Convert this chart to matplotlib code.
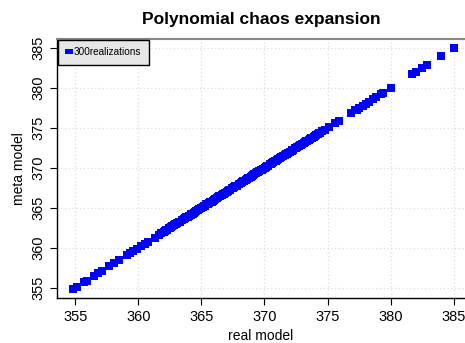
"""
Polynomial chaos expansion : meta model vs real model (300 realizations).
Sortie : out.png
"""
import matplotlib
matplotlib.use("Agg")
import matplotlib.pyplot as plt
from matplotlib.patches import Patch

# valeurs (real model -> abscisse, meta model -> ordonnée)
real_model = [
    354.85, 355.1, 355.7, 355.9, 356.5, 356.8, 357.1, 357.7, 358.1, 358.5,
    359.1, 359.3, 359.6, 359.9, 360.2, 360.5, 360.8, 361.3, 361.6, 361.8,
    362.0, 362.1, 362.2, 362.3, 362.4, 362.5, 362.6, 362.7, 362.85, 362.9,
    363.0, 363.1, 363.2, 363.3, 363.45, 363.5, 363.6, 363.7, 363.8, 363.9,
    364.0, 364.15, 364.2, 364.3, 364.4, 364.5, 364.6, 364.7, 364.8, 364.95,
    365.0, 365.1, 365.2, 365.3, 365.4, 365.55, 365.6, 365.7, 365.8, 365.9,
    366.0, 366.1, 366.2, 366.35, 366.4, 366.5, 366.6, 366.7, 366.8, 366.9,
    367.05, 367.1, 367.2, 367.3, 367.4, 367.5, 367.6, 367.7, 367.8, 367.95,
    368.0, 368.1, 368.2, 368.3, 368.4, 368.5, 368.65, 368.7, 368.8, 368.9,
    369.0, 369.1, 369.2, 369.35, 369.4, 369.5, 369.6, 369.7, 369.8, 369.9,
    370.05, 370.1, 370.2, 370.3, 370.4, 370.5, 370.6, 370.7, 370.85, 370.9,
    371.0, 371.1, 371.2, 371.3, 371.45, 371.5, 371.6, 371.7, 371.8, 371.9,
    372.0, 372.15, 372.2, 372.3, 372.4, 372.5, 372.6, 372.7, 372.85, 372.9,
    373.0, 373.1, 373.2, 373.3, 373.4, 373.55, 373.6, 373.7, 373.8, 373.9,
    374.0, 374.1, 374.25, 374.3, 374.4, 374.6, 374.8, 375.15, 375.6, 375.9,
    376.9, 377.2, 377.3, 377.5, 377.8, 378.05, 378.3, 378.6, 378.85, 379.2,
    379.4, 380.0, 381.7, 382.05, 382.5, 382.85, 384.0, 385.0,
]
meta_model = [
    354.9, 355.1, 355.75, 355.9, 356.5, 356.85, 357.1, 357.7, 358.15, 358.5,
    359.1, 359.35, 359.6, 359.9, 360.25, 360.5, 360.8, 361.3, 361.6, 361.85,
    362.0, 362.15, 362.2, 362.3, 362.45, 362.5, 362.6, 362.75, 362.85, 362.95,
    363.0, 363.1, 363.25, 363.3, 363.45, 363.55, 363.6, 363.7, 363.85, 363.9,
    364.0, 364.15, 364.25, 364.3, 364.4, 364.55, 364.6, 364.7, 364.85, 364.95,
    365.0, 365.15, 365.2, 365.3, 365.45, 365.55, 365.6, 365.75, 365.8, 365.9,
    366.05, 366.1, 366.2, 366.35, 366.45, 366.5, 366.6, 366.75, 366.8, 366.9,
    367.05, 367.15, 367.2, 367.3, 367.45, 367.5, 367.6, 367.75, 367.8, 367.95,
    368.05, 368.1, 368.2, 368.35, 368.4, 368.5, 368.65, 368.75, 368.8, 368.9,
    369.05, 369.1, 369.2, 369.35, 369.45, 369.5, 369.6, 369.75, 369.8, 369.9,
    370.05, 370.15, 370.2, 370.3, 370.45, 370.5, 370.6, 370.75, 370.85, 370.9,
    371.05, 371.1, 371.2, 371.35, 371.45, 371.5, 371.6, 371.75, 371.8, 371.9,
    372.05, 372.15, 372.2, 372.3, 372.45, 372.5, 372.6, 372.75, 372.85, 372.9,
    373.05, 373.1, 373.2, 373.35, 373.4, 373.55, 373.6, 373.75, 373.8, 373.9,
    374.05, 374.1, 374.25, 374.35, 374.4, 374.6, 374.8, 375.15, 375.6, 375.9,
    376.9, 377.2, 377.3, 377.5, 377.8, 378.05, 378.3, 378.6, 378.85, 379.2,
    379.4, 380.0, 381.7, 382.05, 382.5, 382.85, 384.0, 385.0,
]
ticks = [355, 360, 365, 370, 375, 380, 385]
legend_label = "300realizations"

plt.rcParams["font.family"] = ["Liberation Sans", "DejaVu Sans"]

fig = plt.figure(figsize=(4.65, 3.43), dpi=100)
ax = fig.add_axes([0.1226, 0.131, 0.8774, 0.755])

ax.scatter(real_model, meta_model, marker="s", s=27, color="#0000ff",
           linewidths=0, zorder=3)

ax.set_xlim(353.55, 385.9)
ax.set_ylim(353.75, 386.1)
ax.set_xticks(ticks)
ax.set_yticks(ticks)
ax.tick_params(labelsize=10.5, length=5, width=0.8, color="black")
for lab in ax.get_yticklabels():
    lab.set_rotation(90)
    lab.set_va("center")

ax.grid(True, color="#dddddd", linestyle=(0, (1, 2)), linewidth=0.9, zorder=0)

# cadre : gauche/bas noirs, haut gris, pas de bord droit
ax.spines["right"].set_visible(False)
ax.spines["top"].set_color("#888888")
ax.spines["top"].set_linewidth(1.5)
ax.spines["left"].set_linewidth(1.0)
ax.spines["bottom"].set_linewidth(1.0)

ax.set_title("Polynomial chaos expansion", fontsize=12.5, fontweight="bold", pad=11)
ax.set_xlabel("real model", fontsize=10)
ax.set_ylabel("meta model", fontsize=10)

# légende : petit rectangle bleu aplati
handle = Patch(facecolor="#0000ff", edgecolor="none")
leg = ax.legend([handle], [legend_label], loc="upper left", fontsize=7.2,
                frameon=True, fancybox=False, borderaxespad=0.05,
                handlelength=0.8, handleheight=0.45, handletextpad=0.1,
                borderpad=0.75)
leg.get_frame().set_facecolor("#e6e6e6")
leg.get_frame().set_edgecolor("black")
leg.get_frame().set_alpha(1)

fig.savefig("out.png", dpi=100)
